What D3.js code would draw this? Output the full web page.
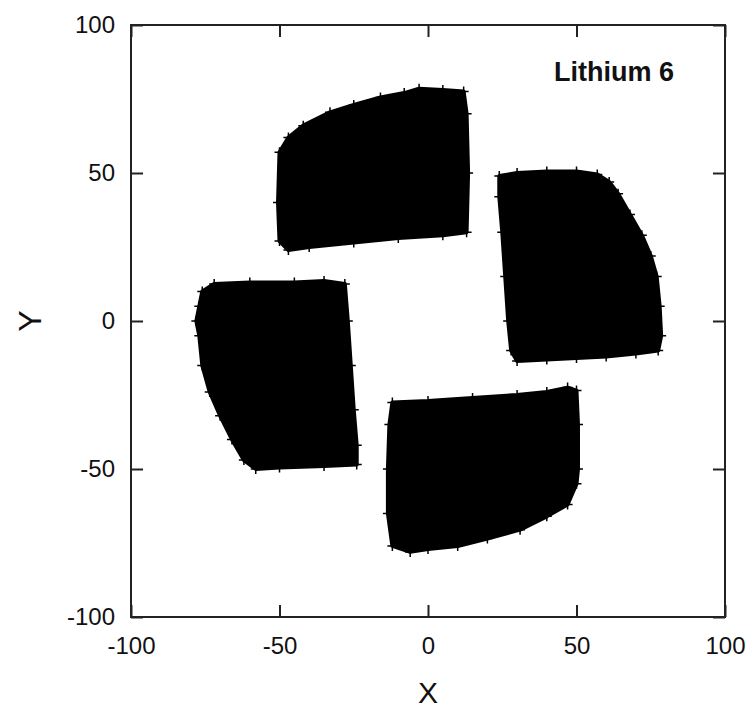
<!DOCTYPE html>
<html><head><meta charset="utf-8">
<script src="https://cdn.jsdelivr.net/npm/d3@7"></script>
<style>
html,body{margin:0;padding:0;background:#fff;}
svg{display:block;}
text{font-family:"Liberation Sans",Arial,sans-serif;fill:#111;}
</style></head>
<body><svg id="chart" width="747" height="709"></svg>
<script>
// ---- data ----
const title = "Lithium 6";
const xTicks = [-100, -50, 0, 50, 100];
const yTicks = [-100, -50, 0, 50, 100];
const xLabel = "X";
const yLabel = "Y";
// outline of each cloud of "+" points (X, Y)
const topCloud = [[-50,57],[-47,62],[-42,66],[-33,70.5],[-25,73],[-16,75.5],[-8,77],[-3,78.5],[5,78],[12,77.5],[13,70],[13.5,50],[13,30],[5,29],[-10,28],[-25,26.5],[-40,25],[-47,24],[-50,27],[-50.5,40]];
const rightCloud = [[24,49],[30,50],[40,50.5],[50,50.5],[57,49.5],[61,47],[64,43],[68,36],[72,29],[75,22],[77,15],[78,5],[78.5,-5],[77.5,-10],[70,-11],[60,-12],[50,-12.5],[40,-13],[30,-13.5],[28,-10],[27,0],[26,15],[25,30],[24,42]];
const leftCloud = [[-76,10],[-72,12.5],[-60,13],[-45,13],[-35,13.5],[-28,12.5],[-27,0],[-26,-15],[-25,-30],[-24,-42],[-24,-48.5],[-35,-49],[-50,-49.5],[-58,-50],[-62,-47],[-66,-40],[-70,-32],[-73.5,-24],[-76,-15],[-77,-5],[-78,0],[-77,5]];
const bottomCloud = [[-12,-27.5],[0,-27],[15,-26],[30,-25],[40,-24],[47,-22.5],[50,-23.5],[50.5,-35],[50.5,-50],[50,-55],[47,-62],[40,-66],[31,-70.5],[20,-73.5],[10,-76],[0,-77],[-6,-78],[-12,-76],[-13.5,-65],[-13.5,-50],[-13,-35]];
const clouds = [topCloud, rightCloud, leftCloud, bottomCloud];

// ---- layout ----
const L = 131, R = 725, T = 25, B = 617;
const svg = d3.select("#chart");
const x = d3.scaleLinear().domain([-100, 100]).range([L, R]);
const y = d3.scaleLinear().domain([-100, 100]).range([B, T]);

// clouds
const line = d3.line().x(d => x(d[0])).y(d => y(d[1])).curve(d3.curveLinearClosed);
svg.append("g").selectAll("path").data(clouds).join("path")
  .attr("d", line).attr("fill", "#000").attr("stroke", "#000")
  .attr("stroke-width", 4).attr("stroke-linejoin", "round");
// "+" markers along outlines
const pts = clouds.flat();
svg.append("g").selectAll("path").data(pts).join("path")
  .attr("transform", d => `translate(${x(d[0])},${y(d[1])})`)
  .attr("d", "M-5,0H5M0,-5V5").attr("stroke", "#000").attr("stroke-width", 1.5);

// axes
const tk = 12;
const fs = 24;
const fmt = d => String(d);
function styleAxis(g){
  g.select(".domain").remove();
  g.selectAll(".tick line").attr("stroke", "#222").attr("stroke-width", 2);
  g.selectAll(".tick text").style("font-size", fs + "px").attr("fill", "#111");
}
svg.append("g").attr("transform", `translate(0,${B})`)
  .call(d3.axisBottom(x).tickValues(xTicks).tickSize(-tk).tickPadding(20).tickFormat(fmt))
  .call(styleAxis);
svg.append("g").attr("transform", `translate(0,${T})`)
  .call(d3.axisTop(x).tickValues(xTicks).tickSize(-tk).tickFormat(""))
  .call(styleAxis);
svg.append("g").attr("transform", `translate(${L},0)`)
  .call(d3.axisLeft(y).tickValues(yTicks).tickSize(-tk).tickPadding(16).tickFormat(fmt))
  .call(styleAxis);
svg.append("g").attr("transform", `translate(${R},0)`)
  .call(d3.axisRight(y).tickValues(yTicks).tickSize(-tk).tickFormat(""))
  .call(styleAxis);
svg.selectAll(".tick text").attr("font-family", null);

// frame
svg.append("rect").attr("x", L).attr("y", T).attr("width", R - L).attr("height", B - T)
  .attr("fill", "none").attr("stroke", "#222").attr("stroke-width", 2);

// titles
svg.append("text").attr("x", x(0)).attr("y", 703).attr("text-anchor", "middle")
  .style("font-size", "30px").text(xLabel);
svg.append("text").attr("transform", `translate(41,${y(0)}) rotate(-90)`).attr("text-anchor", "middle")
  .style("font-size", "32px").text(yLabel);
svg.append("text").attr("x", 614).attr("y", 81).attr("text-anchor", "middle")
  .style("font-size", "27px").style("font-weight", "bold").text(title);
</script></body></html>
